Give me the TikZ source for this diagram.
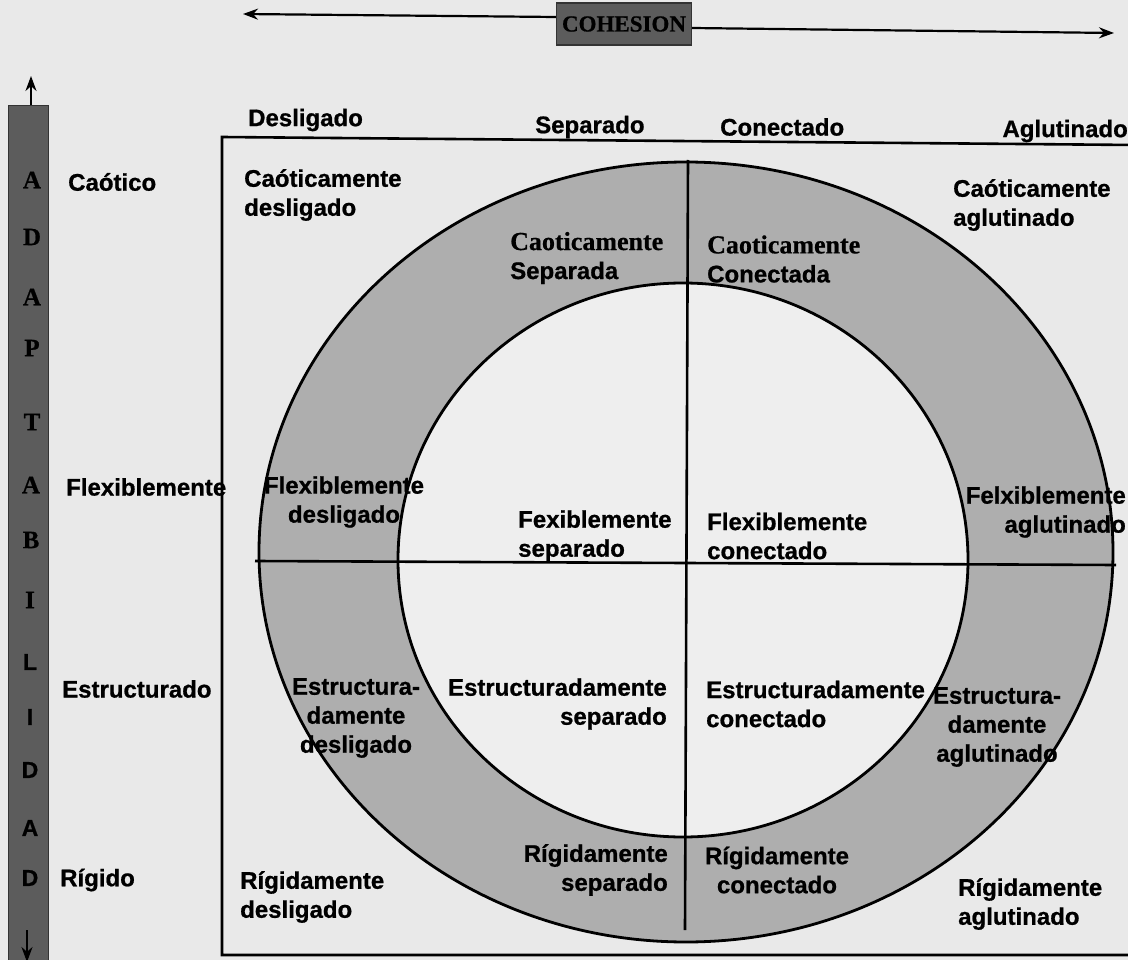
\documentclass[tikz,border=0pt]{standalone}
\usepackage{fontspec}
\setmainfont{Liberation Sans}[BoldFeatures={FakeBold=0.8}]
\newfontfamily\serifb{Liberation Serif}[BoldFeatures={FakeBold=0.6}]
\usetikzlibrary{arrows.meta}
\definecolor{paper}{HTML}{E9E9E9}
\definecolor{ringgray}{HTML}{AEAEAE}
\definecolor{innerw}{HTML}{EEEEEE}
\definecolor{boxgray}{HTML}{5C5C5C}
\begin{document}
\begin{tikzpicture}[x=1pt,y=-1pt,
  lab/.style={font=\fontsize{24}{29}\selectfont\bfseries, inner sep=0pt, align=left, text=black},
  barletter/.style={inner sep=0pt, font=\fontsize{25}{25}\selectfont\serifb\bfseries},
  barletters/.style={inner sep=0pt, font=\fontsize{23}{23}\selectfont\bfseries},
  axis/.style={line width=2.6pt},
  arr/.style={line width=2.2pt, -{Stealth[length=15pt,width=11pt]}}]
\useasboundingbox (0,0) rectangle (1128,960);
\fill[paper] (0,0) rectangle (1128,960);

% frame (open to the right, cut by the page edge)
\coordinate (fTR) at (1135,145);
\coordinate (fTL) at (222,137);
\coordinate (fBL) at (222,955);
\coordinate (fBR) at (1135,955);
\draw[line width=2.6pt] (fTR) -- (fTL) -- (fBL) -- (fBR);

% rings
\fill[ringgray] (686,552) ellipse [x radius=427, y radius=390];
\draw[line width=2.8pt] (686,552) ellipse [x radius=427, y radius=390];
\fill[innerw] (683,560) ellipse [x radius=285, y radius=277];
\draw[line width=2.8pt] (683,560) ellipse [x radius=285, y radius=277];

% cross lines
\coordinate (hl) at (255,561);
\coordinate (hr) at (1116,565);
\coordinate (vt) at (688,160);
\coordinate (vb) at (685,930);
\draw[axis] (hl) -- (hr);
\draw[axis] (vt) -- (vb);

% COHESION box and arrows
\node[fill=boxgray, draw=black!80, line width=1.2pt, minimum width=135pt, minimum height=42pt, inner sep=0pt,
      font=\fontsize{23}{23}\selectfont\serifb\bfseries] (coh) at (624,24) {COHESION};
\coordinate (cl) at (243,14);
\coordinate (cr) at (1114,33);
\draw[arr] (coh.west |- 0,17) -- (cl);
\draw[arr] (coh.east |- 0,28) -- (cr);

% ADAPTABILIDAD bar
\node[fill=boxgray, draw=black!80, line width=1.2pt, minimum width=40pt, minimum height=860pt, inner sep=0pt, anchor=north west] (bar) at (8,105) {};
\coordinate (bu) at (31,76);
\coordinate (bd) at (27,962);
\draw[arr] (bar.north -| 31,0) -- (bu);
\draw[arr] (27,930) -- (bd);
\node[barletter] (b1) at (32,180) {A};
\node[barletter] (b2) at (32,237) {D};
\node[barletter] (b3) at (32,297) {A};
\node[barletter] (b4) at (32,348) {P};
\node[barletter] (b5) at (32,422) {T};
\node[barletter] (b6) at (31,485) {A};
\node[barletter] (b7) at (31,540) {B};
\node[barletter] (b8) at (30,600) {I};
\node[barletters] (b9) at (30,662) {L};
\node[barletters] (b10) at (30,717) {I};
\node[barletters] (b11) at (30,770) {D};
\node[barletters] (b12) at (30,828) {A};
\node[barletters] (b13) at (30,878) {D};

% left labels
\node[lab, anchor=west] (lcao) at (68,182) {Caótico};
\node[lab, anchor=west] (lflex) at (66,487) {Flexiblemente};
\node[lab, anchor=west] (lest) at (62,689) {Estructurado};
\node[lab, anchor=west] (lrig) at (60,880) {Rígido};

% top labels
\node[lab, anchor=west] (tdes) at (248,120) {Desligado};
\node[lab, anchor=west] (tsep) at (535,127) {Separado};
\node[lab, anchor=west] (tcon) at (720,127) {Conectado};
\node[lab, anchor=east] (tagl) at (1128,131) {Aglutinado};

% cells
\node[lab, anchor=west] (cd) at (244,195) {Caóticamente\\desligado};
\node[lab, anchor=west] (ca) at (953,205) {Caóticamente\\aglutinado};
\node[lab, anchor=west] (cs) at (510,258) {{\serifb\fontsize{26}{29}\selectfont Caoticamente}\\Separada};
\node[lab, anchor=west] (cc) at (707,259) {{\serifb\fontsize{26}{29}\selectfont Caoticamente}\\Conectada};

\node[lab, align=center] (fd) at (344,502) {Flexiblemente\\desligado};
\node[lab, anchor=west] (fs) at (518,536) {Fexiblemente\\separado};
\node[lab, anchor=west] (fc) at (707,536) {Flexiblemente\\conectado};
\node[lab, align=right, anchor=east] (fa) at (1126,512) {Felxiblemente\\aglutinado};

\node[lab, align=center] (ed) at (356,718) {Estructura-\\damente\\desligado};
\node[lab, align=right, anchor=east] (es) at (667,704) {Estructuradamente\\separado};
\node[lab, anchor=west] (ec) at (706,704) {Estructuradamente\\conectado};
\node[lab, align=center] (ea) at (997,727) {Estructura-\\damente\\aglutinado};

\node[lab, anchor=west] (rd) at (240,897) {Rígidamente\\desligado};
\node[lab, align=right, anchor=east] (rs) at (668,870) {Rígidamente\\separado};
\node[lab, align=center] (rc) at (777,870) {Rígidamente\\conectado};
\node[lab, anchor=west] (ra) at (958,904) {Rígidamente\\aglutinado};
\end{tikzpicture}
\end{document}
